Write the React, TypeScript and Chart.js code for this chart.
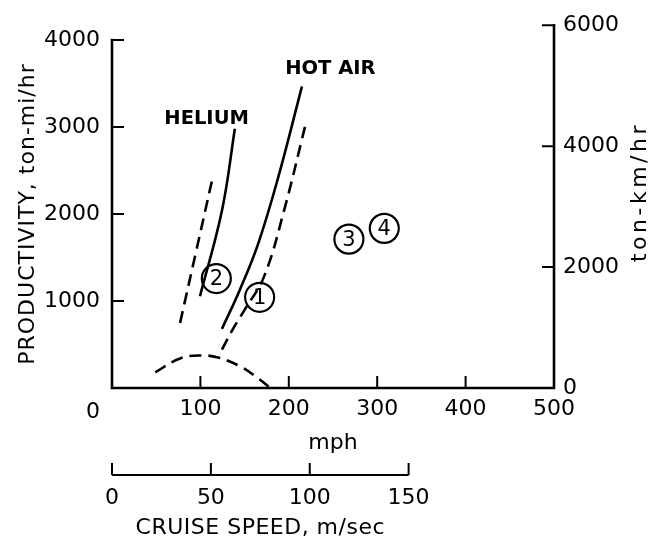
import { useEffect, useRef } from 'react';
import { Chart, registerables } from 'chart.js';
Chart.register(...registerables);

const MPH_PER_MS = 2.23694;

// axis ticks
const mphTicks = [0, 100, 200, 300, 400, 500];
const tonMiTicks = [0, 1000, 2000, 3000, 4000];
const tonKmTicks = [0, 2000, 4000, 6000];
const msTicks = [0, 50, 100, 150];

// curves (x: mph, y: ton-mi/hr)
const heliumSolidX = [99.5, 124.4, 139];
const heliumSolidY = [1054, 2039, 2980];
const heliumDashX = [77, 95, 113];
const heliumDashY = [748, 1563, 2380];
const hotAirSolidX = [124.4, 144.8, 165.2, 187.8, 214.9];
const hotAirSolidY = [680, 1133, 1654, 2413, 3467];
const hotAirDashX = [124.4, 136.9, 150.5, 172, 194.6, 218.3];
const hotAirDashY = [442, 680, 906, 1280, 2039, 3002];
const archX = [49, 77, 100, 120, 145, 162, 179];
const archY = [181, 340, 374, 351, 249, 136, 0];

// numbered markers
const markerNames = ['1', '2', '3', '4'];
const markerX = [167, 118, 268, 308];
const markerY = [1042, 1258, 1711, 1835];

// curve labels
const curveLabels = ['HELIUM', 'HOT AIR'];
const curveLabelX = [107, 247];
const curveLabelY = [3093, 3671];

const FONT = 'DejaVu Sans';

const pts = (xs: number[], ys: number[]) => xs.map((x, i) => ({ x, y: ys[i] }));

const decorPlugin = {
  id: 'decor',
  beforeDatasetsDraw(chart: any) {
    const { ctx } = chart;
    const sx = chart.scales.x, sx2 = chart.scales.x2, sy = chart.scales.y, sy2 = chart.scales.y2;
    const x0 = sx.getPixelForValue(0);
    const x5 = sx.getPixelForValue(500);
    const yb = sy.getPixelForValue(0);
    const T = 12;
    ctx.save();
    ctx.strokeStyle = '#000';
    ctx.lineWidth = 2.6;
    ctx.lineCap = 'square';
    ctx.beginPath();
    ctx.moveTo(x0, sy.getPixelForValue(tonMiTicks[tonMiTicks.length - 1]));
    ctx.lineTo(x0, yb);
    ctx.lineTo(x5, yb);
    ctx.lineTo(x5, sy2.getPixelForValue(tonKmTicks[tonKmTicks.length - 1]));
    ctx.stroke();
    ctx.lineWidth = 2;
    ctx.lineCap = 'butt';
    ctx.beginPath();
    tonMiTicks.filter(v => v > 0).forEach(v => {
      const p = sy.getPixelForValue(v);
      ctx.moveTo(x0, p); ctx.lineTo(x0 + T, p);
    });
    tonKmTicks.filter(v => v > 0).forEach(v => {
      const p = sy2.getPixelForValue(v);
      ctx.moveTo(x5, p); ctx.lineTo(x5 - T, p);
    });
    mphTicks.filter(v => v > 0 && v < 500).forEach(v => {
      const p = sx.getPixelForValue(v);
      ctx.moveTo(p, yb); ctx.lineTo(p, yb - T);
    });
    ctx.stroke();
    // m/sec axis
    const yl = sx2.top + 15;
    ctx.beginPath();
    ctx.moveTo(sx2.getPixelForValue(msTicks[0]), yl);
    ctx.lineTo(sx2.getPixelForValue(msTicks[msTicks.length - 1]), yl);
    msTicks.forEach(v => {
      const p = sx2.getPixelForValue(v);
      ctx.moveTo(p, yl); ctx.lineTo(p, yl - T);
    });
    ctx.stroke();
    ctx.restore();
  },
  afterDatasetsDraw(chart: any) {
    const { ctx } = chart;
    const sx = chart.scales.x, sx2 = chart.scales.x2, sy = chart.scales.y;
    ctx.save();
    ctx.fillStyle = '#000';
    ctx.textBaseline = 'middle';
    ctx.textAlign = 'center';
    // origin label
    ctx.font = `22px "${FONT}"`;
    ctx.fillText('0', sx.getPixelForValue(0) - 19, sx.top + 24);
    // marker numbers
    const meta = chart.getDatasetMeta(5);
    ctx.font = `21px "${FONT}"`;
    meta.data.forEach((el: any, i: number) => {
      ctx.fillText(markerNames[i], el.x, el.y + 1);
    });
    // curve labels
    ctx.font = `bold 19.5px "${FONT}"`;
    curveLabels.forEach((t, i) => {
      ctx.fillText(t, sx.getPixelForValue(curveLabelX[i]), sy.getPixelForValue(curveLabelY[i]));
    });
    // m/sec title
    ctx.font = `22px "${FONT}"`;
    (ctx as any).letterSpacing = '0.5px';
    const mid = (sx2.getPixelForValue(msTicks[0]) + sx2.getPixelForValue(msTicks[msTicks.length - 1])) / 2;
    ctx.fillText('CRUISE SPEED, m/sec', mid, 528);
    // left title
    (ctx as any).letterSpacing = '1px';
    ctx.save();
    ctx.translate(28, (sy.getPixelForValue(0) + sy.getPixelForValue(4000)) / 2);
    ctx.rotate(-Math.PI / 2);
    ctx.fillText('PRODUCTIVITY, ton-mi/hr', 0, 0);
    ctx.restore();
    // right title
    (ctx as any).letterSpacing = '3.5px';
    ctx.save();
    ctx.translate(640, 192);
    ctx.rotate(-Math.PI / 2);
    ctx.fillText('ton-km/hr', 0, 0);
    ctx.restore();
    ctx.restore();
  },
};

export default function App() {
  const ref = useRef<HTMLCanvasElement>(null);
  useEffect(() => {
    if (!ref.current) return;
    Chart.defaults.font.family = FONT;
    Chart.defaults.color = '#000';
    const solid = { borderColor: '#000', borderWidth: 2.6, pointRadius: 0, showLine: true, tension: 0.4, fill: false };
    const dashed = { ...solid, borderDash: [12, 7] };
    const tickFont = { family: FONT, size: 22 };
    const chart = new Chart(ref.current, {
      type: 'scatter',
      data: {
        datasets: [
          { label: 'Helium', data: pts(heliumSolidX, heliumSolidY), ...solid },
          { label: 'Helium (dashed)', data: pts(heliumDashX, heliumDashY), ...dashed },
          { label: 'Hot air', data: pts(hotAirSolidX, hotAirSolidY), ...solid },
          { label: 'Hot air (dashed)', data: pts(hotAirDashX, hotAirDashY), ...dashed },
          { label: 'Low', data: pts(archX, archY), ...dashed },
          {
            label: 'Markers', data: pts(markerX, markerY), showLine: false,
            pointRadius: 14.5, pointBackgroundColor: 'rgba(255,255,255,0)', pointBorderColor: '#000', pointBorderWidth: 2.2,
          },
        ],
      },
      options: {
        responsive: false,
        animation: false,
        events: [],
        layout: { padding: { top: 20, left: 0, right: 0, bottom: 0 } },
        plugins: { legend: { display: false }, tooltip: { enabled: false } },
        scales: {
          x: {
            type: 'linear', position: 'bottom', min: 0, max: 500, weight: 0,
            afterBuildTicks: (s: any) => { s.ticks = mphTicks.map(v => ({ value: v })); },
            afterFit: (s: any) => { s.height = 72; },
            grid: { display: false, drawTicks: false }, border: { display: false },
            ticks: { font: tickFont, padding: 8, maxRotation: 0, autoSkip: false, callback: (v: any) => (v === 0 ? '' : String(v)) },
            title: { display: true, text: 'mph', font: { family: FONT, size: 22 }, padding: { top: 0, bottom: 4 } },
          },
          x2: {
            type: 'linear', position: 'bottom', min: 0, max: 500 / MPH_PER_MS, weight: 1,
            afterBuildTicks: (s: any) => { s.ticks = msTicks.map(v => ({ value: v })); },
            afterFit: (s: any) => { s.height = 78; },
            grid: { display: false, drawTicks: false }, border: { display: false },
            ticks: { font: tickFont, padding: 25, maxRotation: 0, autoSkip: false, callback: (v: any) => String(v) },
          },
          y: {
            type: 'linear', position: 'left', min: 0, max: 4170,
            afterBuildTicks: (s: any) => { s.ticks = tonMiTicks.map(v => ({ value: v })); },
            afterFit: (s: any) => { s.width = 112; },
            grid: { display: false, drawTicks: false }, border: { display: false },
            ticks: { font: tickFont, padding: 12, callback: (v: any) => (v === 0 ? '' : String(v)) },
          },
          y2: {
            type: 'linear', position: 'right', min: 0, max: 6000,
            afterBuildTicks: (s: any) => { s.ticks = tonKmTicks.map(v => ({ value: v })); },
            afterFit: (s: any) => { s.width = 101; },
            grid: { display: false, drawTicks: false }, border: { display: false },
            ticks: { font: tickFont, padding: 9, callback: (v: any) => String(v) },
          },
        },
      },
      plugins: [decorPlugin],
    } as any);
    return () => chart.destroy();
  }, []);
  return (
    <div style={{ position: 'fixed', left: 0, top: 0, width: 655, height: 538, background: '#fff' }}>
      <canvas ref={ref} width={655} height={538} style={{ display: 'block' }} />
    </div>
  );
}
